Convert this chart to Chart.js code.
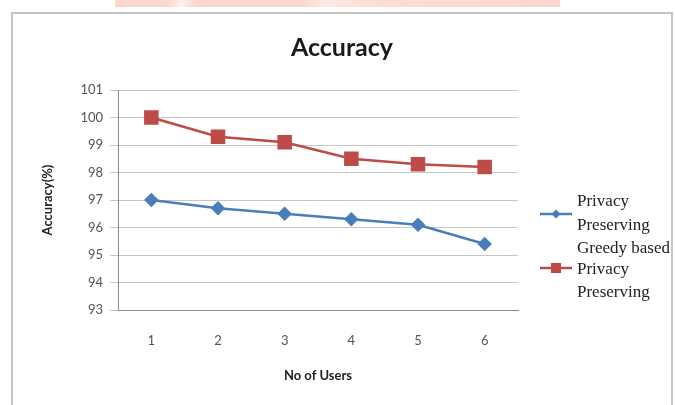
<!DOCTYPE html>
<html>
<head>
<meta charset="utf-8">
<script src="https://cdn.jsdelivr.net/npm/chart.js@4/dist/chart.umd.min.js"></script>
<style>
  html, body { margin: 0; padding: 0; background: #ffffff; }
  #wrap { width: 675px; height: 405px; }
</style>
</head>
<body>
<div id="wrap"><canvas id="c" width="675" height="405"></canvas></div>
<script>
// Number of users on the x axis
const users = ['1', '2', '3', '4', '5', '6'];
// Accuracy (%) per series
const privacyPreserving = [97.0, 96.7, 96.5, 96.3, 96.1, 95.4];
const greedyPrivacyPreserving = [100.0, 99.3, 99.1, 98.5, 98.3, 98.2];
// Legend text, wrapped as in the key
const legendPrivacy = ['Privacy', 'Preserving'];
const legendGreedy = ['Greedy based', 'Privacy', 'Preserving'];
const chartTitle = 'Accuracy';

const BLUE = '#4a7ebb';
const RED = '#be4b48';

// Outer frame, faint banner strip and title
const framePlugin = {
  id: 'frame',
  beforeDraw(chart) {
    const ctx = chart.ctx;
    ctx.save();
    ctx.fillStyle = '#ffffff';
    ctx.fillRect(0, 0, chart.width, chart.height);
    // banner strip at the very top
    const g = ctx.createLinearGradient(115, 0, 560, 0);
    g.addColorStop(0, '#fcd6cf');
    g.addColorStop(0.12, '#fcd6cf');
    g.addColorStop(0.15, '#fff2ee');
    g.addColorStop(0.18, '#fcd6cf');
    g.addColorStop(0.42, '#fcd6cf');
    g.addColorStop(0.47, '#fdeae4');
    g.addColorStop(0.6, '#fcdcd4');
    g.addColorStop(1, '#fcd6cf');
    ctx.fillStyle = g;
    ctx.fillRect(115, 0, 445, 7);
    // frame
    ctx.strokeStyle = '#c4c4c4';
    ctx.lineWidth = 2;
    ctx.strokeRect(12, 13, 660, 420);
    ctx.restore();
  },
  afterDraw(chart) {
    const ctx = chart.ctx;
    ctx.save();
    ctx.fillStyle = '#1a1a1a';
    ctx.font = 'bold 25px Lato, "Open Sans", sans-serif';
    ctx.textAlign = 'center';
    ctx.textBaseline = 'middle';
    ctx.fillText(chartTitle, 342, 48);
    ctx.restore();
  }
};

// Key on the right: short line with marker, serif text wrapped over lines
const keyPlugin = {
  id: 'key',
  afterDraw(chart) {
    const ctx = chart.ctx;
    const ds = chart.data.datasets;
    const entries = [
      { ds: ds[0], lines: legendPrivacy, ys: [202, 226], markerY: 214 },
      { ds: ds[1], lines: legendGreedy, ys: [249, 270, 293], markerY: 268 }
    ];
    ctx.save();
    ctx.font = '17px "Liberation Serif", "DejaVu Serif", serif';
    ctx.textAlign = 'left';
    ctx.textBaseline = 'middle';
    entries.forEach(e => {
      ctx.strokeStyle = e.ds.borderColor;
      ctx.lineWidth = 2.5;
      ctx.beginPath();
      ctx.moveTo(540, e.markerY);
      ctx.lineTo(572, e.markerY);
      ctx.stroke();
      ctx.fillStyle = e.ds.borderColor;
      ctx.beginPath();
      if (e.ds.pointStyle === 'rect') {
        ctx.rect(551, e.markerY - 5, 10, 10);
      } else {
        ctx.moveTo(556, e.markerY - 4.5);
        ctx.lineTo(560.5, e.markerY);
        ctx.lineTo(556, e.markerY + 4.5);
        ctx.lineTo(551.5, e.markerY);
        ctx.closePath();
      }
      ctx.fill();
      ctx.fillStyle = '#222222';
      e.lines.forEach((t, i) => ctx.fillText(t, 577, e.ys[i]));
    });
    ctx.restore();
  }
};

new Chart(document.getElementById('c'), {
  type: 'line',
  data: {
    labels: users,
    datasets: [
      {
        label: legendPrivacy.join(' '),
        data: privacyPreserving,
        borderColor: BLUE,
        backgroundColor: BLUE,
        borderWidth: 2.5,
        pointStyle: 'rectRot',
        pointRadius: 5.5,
        pointHoverRadius: 5.5,
        tension: 0
      },
      {
        label: legendGreedy.join(' '),
        data: greedyPrivacyPreserving,
        borderColor: RED,
        backgroundColor: RED,
        borderWidth: 2.5,
        pointStyle: 'rect',
        pointRadius: 8.5,
        pointHoverRadius: 8.5,
        tension: 0
      }
    ]
  },
  options: {
    responsive: false,
    animation: false,
    devicePixelRatio: 1,
    layout: { padding: { top: 90, right: 157, bottom: 0, left: 0 } },
    plugins: {
      legend: { display: false },
      title: { display: false },
      tooltip: { enabled: false }
    },
    scales: {
      x: {
        offset: true,
        grid: { display: false, drawTicks: false },
        border: { display: true, color: '#8c8c8c', width: 1 },
        ticks: {
          padding: 23,
          color: '#555555',
          font: { family: 'Lato, "Open Sans", sans-serif', size: 13 }
        },
        title: {
          display: true,
          text: 'No of Users',
          color: '#222222',
          padding: { top: 0, bottom: 21 },
          font: { family: 'Lato, "Open Sans", sans-serif', size: 13, weight: 'bold' }
        },
        afterFit(scale) { scale.height = 95; }
      },
      y: {
        min: 93,
        max: 101,
        ticks: {
          stepSize: 1,
          padding: 7,
          color: '#555555',
          font: { family: 'Lato, "Open Sans", sans-serif', size: 13 }
        },
        grid: { color: '#c6c6c6', lineWidth: 1, tickLength: 8, drawTicks: true },
        border: { display: true, color: '#8c8c8c', width: 1 },
        title: {
          display: true,
          text: 'Accuracy(%)',
          color: '#222222',
          padding: { top: 40, bottom: 0 },
          font: { family: 'Lato, "Open Sans", sans-serif', size: 13, weight: 'bold' }
        },
        afterFit(scale) { scale.width = 118; }
      }
    }
  },
  plugins: [framePlugin, keyPlugin]
});
</script>
</body>
</html>
